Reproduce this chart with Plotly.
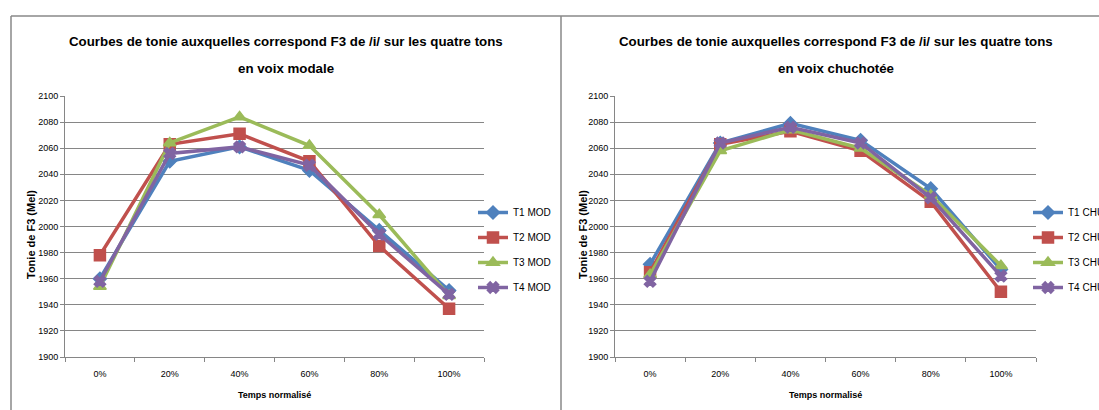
import plotly.graph_objects as go

W, H = 1099, 410

categories = ["0%", "20%", "40%", "60%", "80%", "100%"]

mod_names = ["T1 MOD", "T2 MOD", "T3 MOD", "T4 MOD"]
mod_t1 = [1960, 2050, 2061, 2043, 1997, 1951]
mod_t2 = [1978, 2063, 2071, 2050, 1985, 1937]
mod_t3 = [1954, 2064, 2084, 2062, 2009, 1947]
mod_t4 = [1958, 2056, 2061, 2047, 1994, 1948]

chu_names = ["T1 CHU", "T2 CHU", "T3 CHU", "T4 CHU"]
chu_t1 = [1971, 2064, 2079, 2066, 2029, 1967]
chu_t2 = [1965, 2063, 2073, 2058, 2019, 1950]
chu_t3 = [1963, 2058, 2074, 2060, 2024, 1970]
chu_t4 = [1958, 2064, 2076, 2064, 2022, 1962]

title_left = ["Courbes de tonie auxquelles correspond F3 de /i/ sur les quatre tons", "en voix modale"]
title_right = ["Courbes de tonie auxquelles correspond F3 de /i/ sur les quatre tons", "en voix chuchotée"]
y_title = "Tonie de F3 (Mel)"
x_title = "Temps normalisé"

colors = ["#4F81BD", "#C0504D", "#9BBB59", "#8064A2"]
symbols = ["diamond", "square", "triangle-up", "x"]
msizes = [10, 11, 11, 10]

FONT = "Liberation Sans, Arial, sans-serif"


def px(x):
    return x / W


def py(y):
    return 1 - y / H


fig = go.Figure()

for i, (name, vals) in enumerate(zip(mod_names, [mod_t1, mod_t2, mod_t3, mod_t4])):
    fig.add_trace(go.Scatter(
        x=categories, y=vals, name=name, mode="lines+markers",
        line=dict(color=colors[i], width=3.5),
        marker=dict(symbol=symbols[i], size=msizes[i], color=colors[i],
                    line=dict(color=colors[i], width=1.5)),
        xaxis="x", yaxis="y", legend="legend", legendgroup="m%d" % i,
    ))

for i, (name, vals) in enumerate(zip(chu_names, [chu_t1, chu_t2, chu_t3, chu_t4])):
    fig.add_trace(go.Scatter(
        x=categories, y=vals, name=name, mode="lines+markers",
        line=dict(color=colors[i], width=3.5),
        marker=dict(symbol=symbols[i], size=msizes[i], color=colors[i],
                    line=dict(color=colors[i], width=1.5)),
        xaxis="x2", yaxis="y2", legend="legend2", legendgroup="c%d" % i,
    ))

xaxis_common = dict(
    type="category", range=[-0.5, 5.5], tickson="boundaries",
    ticks="outside", ticklen=4, tickcolor="#868686",
    showline=True, linecolor="#868686", linewidth=1,
    showgrid=False, zeroline=False, ticklabelstandoff=8,
    tickfont=dict(family=FONT, size=9, color="#000"),
    fixedrange=True,
)
yaxis_common = dict(
    range=[1900, 2100], dtick=20, tick0=1900,
    ticks="outside", ticklen=4, tickcolor="#868686",
    showline=True, linecolor="#868686", linewidth=1,
    showgrid=True, gridcolor="#868686", gridwidth=1,
    zeroline=False,
    tickfont=dict(family=FONT, size=9, color="#000"),
    fixedrange=True,
)

legend_common = dict(
    font=dict(family=FONT, size=10, color="#000"),
    bgcolor="rgba(0,0,0,0)", borderwidth=0,
    xanchor="left", yanchor="top", tracegroupgap=6,
    itemwidth=30,
)

fig.update_layout(
    width=W, height=H,
    margin=dict(l=0, r=0, t=0, b=0, autoexpand=False),
    paper_bgcolor="white", plot_bgcolor="white",
    xaxis=dict(domain=[px(65), px(484)], anchor="y", **xaxis_common),
    yaxis=dict(domain=[py(357), py(96)], anchor="x", **yaxis_common),
    xaxis2=dict(domain=[px(615), px(1036)], anchor="y2", **xaxis_common),
    yaxis2=dict(domain=[py(357), py(96)], anchor="x2", **yaxis_common),
    legend=dict(x=px(473), y=py(198), **legend_common),
    legend2=dict(x=px(1028), y=py(198), **legend_common),
    showlegend=True,
)

# Panel borders
border = dict(color="#898989", width=1.5)
fig.add_shape(type="line", xref="paper", yref="paper", x0=px(11), x1=1.01, y0=py(16), y1=py(16), line=border)
fig.add_shape(type="line", xref="paper", yref="paper", x0=px(11), x1=px(11), y0=py(16), y1=-0.05, line=border)
fig.add_shape(type="line", xref="paper", yref="paper", x0=px(561), x1=px(561), y0=py(16), y1=-0.05, line=border)

annots = []
for cx, lines in [(286, title_left), (836, title_right)]:
    for j, t in enumerate(lines):
        annots.append(dict(
            x=px(cx), y=py(42 + 26 * j), xref="paper", yref="paper",
            text="<b>%s</b>" % t, showarrow=False, xanchor="center", yanchor="middle",
            font=dict(family=FONT, size=13.3, color="#000"),
        ))
for cx in [31, 583]:
    annots.append(dict(
        x=px(cx), y=py(235), xref="paper", yref="paper", text="<b>%s</b>" % y_title,
        showarrow=False, textangle=-90, xanchor="center", yanchor="middle",
        font=dict(family=FONT, size=11, color="#000"),
    ))
for cx in [274, 825]:
    annots.append(dict(
        x=px(cx), y=py(395), xref="paper", yref="paper", text="<b>%s</b>" % x_title,
        showarrow=False, xanchor="center", yanchor="middle",
        font=dict(family=FONT, size=9, color="#000"),
    ))
fig.update_layout(annotations=annots)

fig.write_html(
    "out.html",
    config={"displayModeBar": False},
    post_script="document.body.style.margin='0';document.body.style.overflow='hidden';",
)
